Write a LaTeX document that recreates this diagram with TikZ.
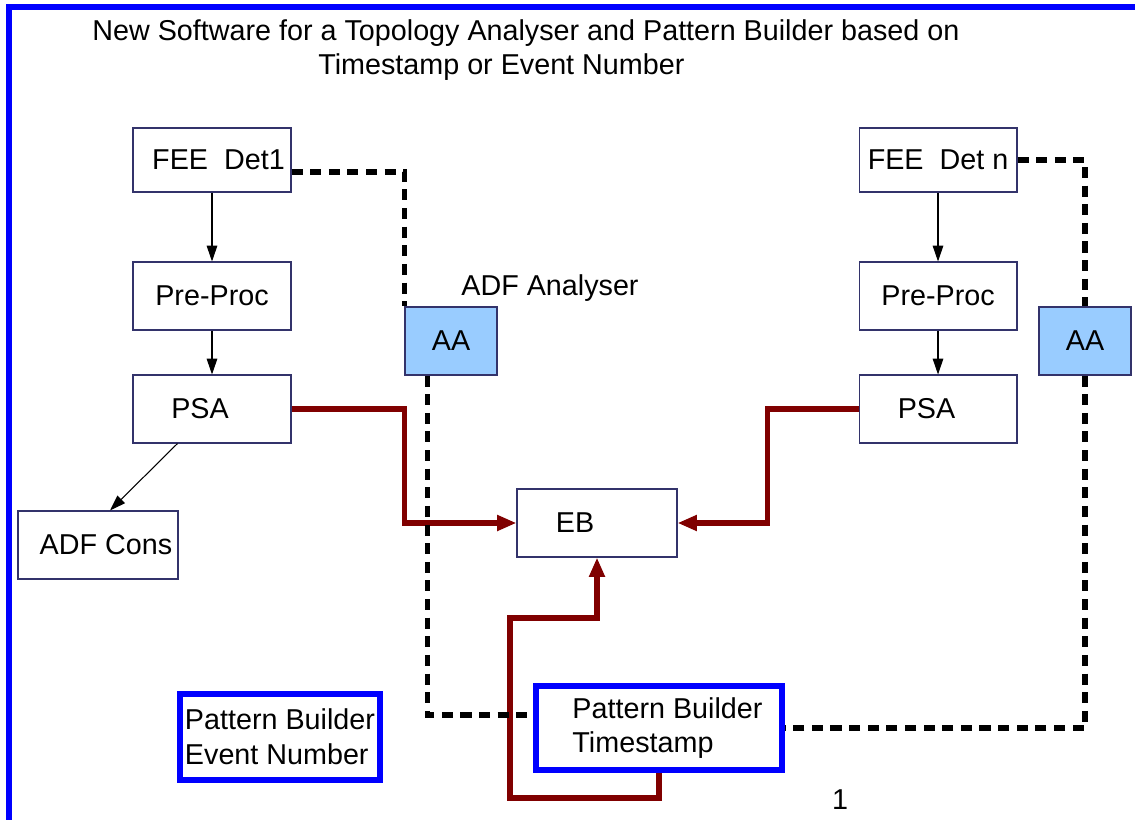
\documentclass[tikz,border=0pt]{standalone}
\usepackage{fontspec}
\setmainfont{Liberation Sans}
\usepackage{tikz}
\usetikzlibrary{positioning,arrows.meta,calc}
\definecolor{boxline}{HTML}{33336B}
\definecolor{aafill}{HTML}{99CCFF}
\definecolor{evred}{HTML}{800000}
\definecolor{pbblue}{HTML}{0000FF}

\begin{document}
\begin{tikzpicture}[x=0.02cm,y=-0.02cm,font=\fontsize{16.35}{19.8}\selectfont,
  box/.style={draw=boxline,line width=0.6pt,fill=white,
              minimum width=3.16cm,minimum height=1.36cm,inner sep=2pt},
  aabox/.style={box,fill=aafill,minimum width=1.84cm},
  pbbox/.style={draw=pbblue,line width=3.4pt,fill=white,align=left,inner sep=2pt},
  flow/.style={-{Triangle[length=9pt,width=6pt]},line width=0.6pt},
  evline/.style={evred,line width=3.1pt,-{Triangle[length=11pt,width=8.5pt]}},
  sigline/.style={line width=3.2pt,dash pattern=on 6.3pt off 4.3pt}]

\useasboundingbox (0,0) rectangle (1135,820);
\clip (0,0) rectangle (1135,820);
\draw[pbblue,line width=3.4pt] (9,7) rectangle (1200,900);

\node[align=left,anchor=west,inner sep=0pt] (title) at (92,50)
  {New Software for a Topology Analyser and Pattern Builder based on\\
   \hspace*{4.52cm}Timestamp or Event Number};

% detector 1 chain
\node[box,minimum height=1.28cm] (fee1) at (212,160) {\hspace{0.26cm}FEE\ \ Det1};
\node[box] (pre1) at (212,296) {Pre-Proc};
\node[box] (psa1) at (212,409) {PSA\hspace{0.48cm}\mbox{}};
\node[box,minimum width=3.2cm] (adfcons) at (98,545) {\ \ ADF Cons};
\node[aabox] (aa1) at (451,341) {AA};
\node (adflabel) at (550,288) {ADF Analyser};

% detector n chain
\node[box,minimum height=1.28cm] (feen) at (938,160) {FEE\ \ Det n};
\node[box] (pren) at (938,296) {Pre-Proc};
\node[box] (psan) at (938,409) {PSA\hspace{0.46cm}\mbox{}};
\node[aabox] (aan) at (1085,341) {AA};

\node[box,minimum width=3.2cm] (eb) at (597,523) {EB\hspace{0.88cm}\mbox{}};
\node[pbbox,minimum width=4.92cm,minimum height=1.68cm] (pbts) at (659,728)
  {\hspace{0.34cm}Pattern Builder\\\hspace{0.34cm}Timestamp};
\node[pbbox,minimum width=4.0cm,minimum height=1.72cm] (pben) at (280,737)
  {Pattern Builder\\Event Number};
\node (pagenum) at (840,800) {1};

\draw[flow] (fee1) -- (pre1);
\draw[flow] (pre1) -- (psa1);
\draw[flow] ($(psa1.south west)+(45,0)$) -- ($(adfcons.north)+(12,0)$);
\draw[flow] (feen) -- (pren);
\draw[flow] (pren) -- (psan);

\draw[evline] (psa1.east) -- ++(113,0) |- (eb.west);
\draw[evline] (psan.west) -- ++(-91,0) |- (eb.east);
\draw[evline] (pbts.south) -- ++(0,25) -| ++(-149,-180) -| (eb.south);

\draw[sigline] ($(fee1.east)+(0,12)$) -| (aa1.north west);
\draw[sigline] ($(aa1.south west)+(23,0)$) |- ($(pbts.west)+(0,-13)$);
\draw[sigline] (feen.east) -| (aan.north);
\draw[sigline] (aan.south) |- (pbts.east);

\end{tikzpicture}
\end{document}
